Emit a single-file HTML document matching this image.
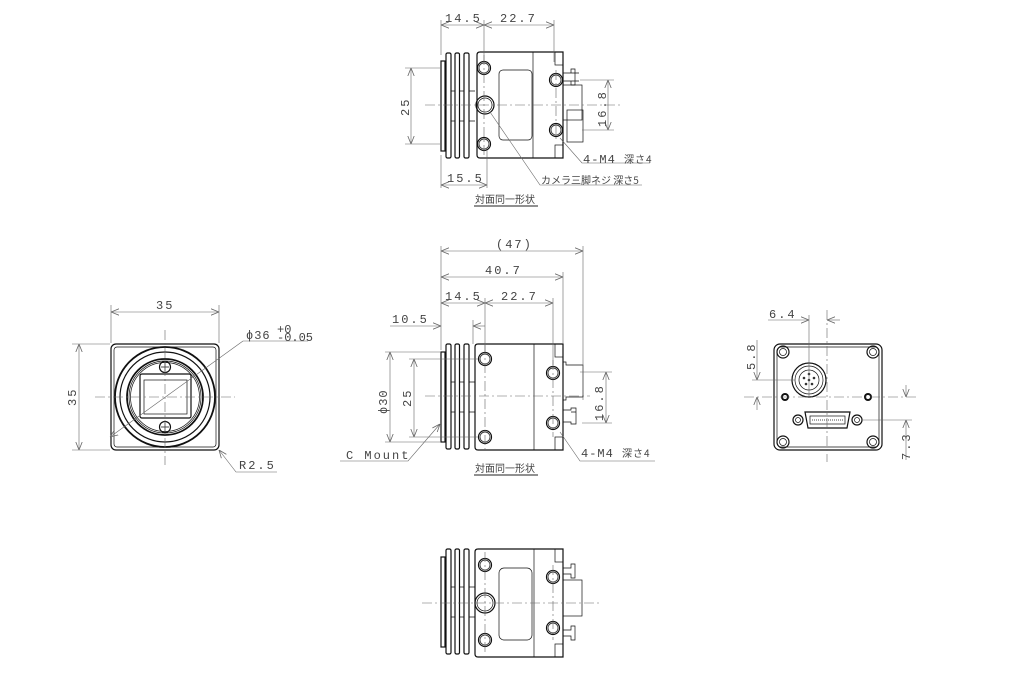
<!DOCTYPE html>
<html><head><meta charset="utf-8"><style>
html,body{margin:0;padding:0;background:#fff;}
svg{display:block;}
text{font-family:"Liberation Mono","Noto Sans CJK JP",monospace;fill:#444;font-size:12px;}
.k{fill:none;stroke:#111;stroke-width:1.2;}
.t{fill:none;stroke:#111;stroke-width:0.7;}
.d{fill:none;stroke:#666;stroke-width:0.6;}
.c{fill:none;stroke:#666;stroke-width:0.6;stroke-dasharray:10 3 2 3;}
.j{font-family:"Noto Sans CJK JP",sans-serif;font-size:10px;}
</style></head><body>
<svg width="1030" height="700" viewBox="0 0 1030 700" xmlns="http://www.w3.org/2000/svg">
<defs>
<marker id="a" viewBox="0 0 10 10" refX="10" refY="5" markerWidth="8" markerHeight="8" orient="auto-start-reverse" markerUnits="userSpaceOnUse"><path d="M0,1 L10,5 L0,9" fill="none" stroke="#666" stroke-width="1"/></marker>
<g id="fins">
<rect class="k" x="441" y="8" width="4" height="90"/>
<rect class="k" x="446" y="0" width="5" height="105" rx="1.5"/>
<rect class="k" x="455" y="0" width="4.5" height="105" rx="1.5"/>
<rect class="k" x="464" y="0" width="5" height="105" rx="1.5"/>
<path class="t" d="M451,38 h4 M459.5,38 h4.5 M469,38 h6 M451,68 h4 M459.5,68 h4.5 M469,68 h6 M445,38 h1 M445,68 h1"/>
</g>
<g id="hole"><circle class="k" r="6.5"/><circle class="t" r="5"/></g>
</defs>

<!-- TOP VIEW -->
<g transform="translate(0,53)"><use href="#fins"/></g>
<path class="k" d="M477,55 q0,-3 3,-3 H563 V158 H480 q-3,0 -3,-3 Z"/>
<line class="t" x1="533" y1="52" x2="533" y2="158"/>
<rect class="t" x="499" y="70" width="33" height="70" rx="4"/>
<rect class="t" x="555" y="52" width="8" height="13"/><rect class="t" x="555" y="145" width="8" height="13"/>
<rect class="t" x="563" y="85" width="19" height="35"/>
<rect class="t" x="567" y="110" width="16" height="32"/>
<path class="t" d="M563,73 h8 v-4 h4 v16 h-4 v-4 h-8 M571,73 h8 M571,81 h8"/>
<use href="#hole" x="484" y="68"/><use href="#hole" x="484" y="144"/>
<use href="#hole" x="556" y="80"/><use href="#hole" x="556" y="130"/>
<circle class="k" cx="485" cy="105" r="9"/><circle class="t" cx="485" cy="105" r="7"/>
<line class="c" x1="425" y1="105" x2="620" y2="105"/>
<line class="c" x1="484" y1="55" x2="484" y2="158"/><line class="c" x1="556" y1="70" x2="556" y2="140"/>
<path class="d" d="M441,20 V55 M484,20 V62 M554,20 V62 M441,188 V155 M487,188 V150 M405,68 H440 M405,144 H440 M580,80 H614 M582,130 H614"/>
<line class="d" x1="441" y1="25" x2="484" y2="25" marker-start="url(#a)" marker-end="url(#a)"/>
<line class="d" x1="484" y1="25" x2="554" y2="25" marker-start="url(#a)" marker-end="url(#a)"/>
<line class="d" x1="441" y1="185" x2="487" y2="185" marker-start="url(#a)" marker-end="url(#a)"/>
<line class="d" x1="411" y1="68" x2="411" y2="144" marker-start="url(#a)" marker-end="url(#a)"/>
<line class="d" x1="608" y1="80" x2="608" y2="130" marker-start="url(#a)" marker-end="url(#a)"/>
<text x="445" y="22" letter-spacing="2">14.5</text><text x="500" y="22" letter-spacing="2">22.7</text>
<text x="447" y="182" letter-spacing="2">15.5</text>
<text transform="translate(409,116) rotate(-90)" letter-spacing="2">25</text>
<text transform="translate(606,127) rotate(-90)" letter-spacing="2">16.8</text>
<path class="d" d="M490,112 L540,185 H642 M560,138 L582,163 H650"/>
<text x="583" y="163" letter-spacing="1">4-M4 <tspan class="j">深さ4</tspan></text>
<text x="541" y="184" class="j">カメラ三脚ネジ 深さ5</text>
<text x="475" y="203" class="j">対面同一形状</text>
<line x1="474" y1="206" x2="538" y2="206" stroke="#222" stroke-width="1"/>

<!-- FRONT VIEW -->
<rect class="k" x="111" y="344" width="108" height="106" rx="5"/>
<rect class="t" x="114" y="347" width="102" height="100" rx="3"/>
<circle cx="165" cy="397" r="50" fill="none" stroke="#111" stroke-width="1.8"/>
<circle class="k" cx="165" cy="397" r="45"/>
<circle cx="165" cy="397" r="38" fill="none" stroke="#111" stroke-width="1.8"/>
<circle class="t" cx="165" cy="397" r="36"/>
<circle class="t" cx="165" cy="397" r="34.5"/>
<rect class="k" x="140" y="374" width="51" height="44" rx="2"/>
<rect class="t" x="144" y="380" width="43" height="34"/>
<circle class="k" cx="165" cy="367" r="5.5"/><circle class="k" cx="165" cy="427" r="5.5"/>
<path class="t" d="M161,367 h8 M165,363 v8 M161,427 h8 M165,423 v8"/>
<line class="c" x1="95" y1="397" x2="235" y2="397"/>
<line class="c" x1="165" y1="330" x2="165" y2="465"/>
<path class="d" d="M111,305 V343 M219,305 V343 M72,344 H110 M72,450 H110"/>
<line class="d" x1="111" y1="312" x2="219" y2="312" marker-start="url(#a)" marker-end="url(#a)"/>
<line class="d" x1="79" y1="344" x2="79" y2="450" marker-start="url(#a)" marker-end="url(#a)"/>
<text x="156" y="309" letter-spacing="2">35</text>
<text transform="translate(76,406) rotate(-90)" letter-spacing="2">35</text>
<line class="d" x1="110" y1="437" x2="243" y2="341" marker-start="url(#a)"/>
<path class="d" d="M243,341 H308"/>
<text x="246" y="339" letter-spacing="1">ϕ36</text><text x="277" y="333" font-size="8">+0</text><text x="277" y="341" font-size="8">-0.05</text>
<path class="d" d="M219,450 L236,472 H277" marker-start="url(#a)"/>
<text x="239" y="469" letter-spacing="2">R2.5</text>

<!-- SIDE VIEW -->
<g transform="translate(0,344)"><use href="#fins"/></g>
<path class="k" d="M475,347 q0,-3 3,-3 H563 V450 H478 q-3,0 -3,-3 Z"/>
<line class="t" x1="534" y1="344" x2="534" y2="450"/>
<rect class="t" x="555" y="344" width="8" height="13"/><rect class="t" x="555" y="437" width="8" height="13"/>
<path class="t" d="M563,362 h3 v3 h17 v32 h-17 v3 h-3"/>
<path class="t" d="M563,410 h8 v-2 h5 v16 h-5 v-2 h-8 M571,412 h5"/>
<use href="#hole" x="485" y="359"/><use href="#hole" x="485" y="437"/>
<use href="#hole" x="553" y="373"/><use href="#hole" x="553" y="423"/>
<line class="c" x1="425" y1="396" x2="590" y2="396"/>
<line class="c" x1="485" y1="345" x2="485" y2="450"/><line class="c" x1="553" y1="360" x2="553" y2="437"/>
<path class="d" d="M441,246 V350 M583,246 V400 M563,272 V343 M485,298 V352 M553,298 V365 M473,320 V344 M385,352 H440 M409,359 H478 M580,372 H612 M582,423 H612"/>
<line class="d" x1="441" y1="251" x2="583" y2="251" marker-start="url(#a)" marker-end="url(#a)"/>
<line class="d" x1="441" y1="277" x2="563" y2="277" marker-start="url(#a)" marker-end="url(#a)"/>
<line class="d" x1="441" y1="303" x2="485" y2="303" marker-start="url(#a)" marker-end="url(#a)"/>
<line class="d" x1="485" y1="303" x2="553" y2="303" marker-start="url(#a)" marker-end="url(#a)"/>
<line class="d" x1="390" y1="326" x2="441" y2="326" marker-end="url(#a)"/>
<line class="d" x1="485" y1="326" x2="473" y2="326" marker-end="url(#a)"/>
<line class="d" x1="390" y1="352" x2="390" y2="442" marker-start="url(#a)" marker-end="url(#a)"/>
<path class="d" d="M385,442 H440"/>
<line class="d" x1="414" y1="359" x2="414" y2="437" marker-start="url(#a)" marker-end="url(#a)"/>
<path class="d" d="M409,437 H478"/>
<line class="d" x1="606" y1="372" x2="606" y2="423" marker-start="url(#a)" marker-end="url(#a)"/>
<text x="496" y="248" letter-spacing="2">(47)</text>
<text x="485" y="274" letter-spacing="2">40.7</text>
<text x="445" y="300" letter-spacing="2">14.5</text><text x="501" y="300" letter-spacing="2">22.7</text>
<text x="392" y="323" letter-spacing="2">10.5</text>
<text transform="translate(387,414) rotate(-90)" letter-spacing="1">ϕ30</text>
<text transform="translate(411,407) rotate(-90)" letter-spacing="2">25</text>
<text transform="translate(603,421) rotate(-90)" letter-spacing="2">16.8</text>
<path class="d" d="M340,461 H408 L440,424" marker-end="url(#a)"/>
<text x="346" y="459" letter-spacing="2">C Mount</text>
<path class="d" d="M560,432 L580,461 H655"/>
<text x="581" y="457" letter-spacing="1">4-M4 <tspan class="j">深さ4</tspan></text>
<text x="475" y="472" class="j">対面同一形状</text>
<line x1="474" y1="475" x2="538" y2="475" stroke="#222" stroke-width="1"/>

<!-- BACK VIEW -->
<rect class="k" x="774" y="344" width="108" height="106" rx="6"/>
<rect class="t" x="777" y="347" width="102" height="100" rx="4"/>
<g><circle class="k" cx="783" cy="352" r="6"/><circle class="t" cx="783" cy="352" r="3.5"/>
<circle class="k" cx="873" cy="352" r="6"/><circle class="t" cx="873" cy="352" r="3.5"/>
<circle class="k" cx="783" cy="442" r="6"/><circle class="t" cx="783" cy="442" r="3.5"/>
<circle class="k" cx="873" cy="442" r="6"/><circle class="t" cx="873" cy="442" r="3.5"/></g>
<circle class="k" cx="809" cy="380" r="17"/><circle class="t" cx="809" cy="380" r="14"/><circle class="t" cx="809" cy="380" r="10"/>
<g fill="#333"><circle cx="809" cy="374" r="1.3"/><circle cx="804" cy="378" r="1.3"/><circle cx="814" cy="378" r="1.3"/><circle cx="806" cy="384" r="1.3"/><circle cx="812" cy="384" r="1.3"/><circle cx="809" cy="380" r="1.3"/></g>
<circle cx="785" cy="397" r="4" fill="#111"/><circle cx="868" cy="397" r="4" fill="#111"/>
<circle cx="785" cy="397" r="2" fill="#fff"/><circle cx="868" cy="397" r="2" fill="#fff"/>
<path class="k" d="M805,412 H850 L847,428 H808 Z"/>
<rect class="t" x="810" y="416" width="35" height="8"/>
<path class="t" d="M812,420 H843" stroke-dasharray="1 1"/>
<circle class="k" cx="798" cy="420" r="5"/><circle class="t" cx="798" cy="420" r="2.5"/>
<circle class="k" cx="857" cy="420" r="5"/><circle class="t" cx="857" cy="420" r="2.5"/>
<line class="c" x1="744" y1="397" x2="918" y2="397"/>
<line class="c" x1="827" y1="310" x2="827" y2="462"/>
<path class="d" d="M809,315 V396 M752,380 H795 M862,420 H912"/>
<line class="d" x1="768" y1="320" x2="809" y2="320" marker-end="url(#a)"/>
<line class="d" x1="840" y1="320" x2="827" y2="320" marker-end="url(#a)"/>
<text x="769" y="318" letter-spacing="2">6.4</text>
<line class="d" x1="757" y1="340" x2="757" y2="380" marker-end="url(#a)"/>
<line class="d" x1="757" y1="410" x2="757" y2="397" marker-end="url(#a)"/>
<text transform="translate(755,370) rotate(-90)" letter-spacing="2">5.8</text>
<line class="d" x1="906" y1="385" x2="906" y2="397" marker-end="url(#a)"/>
<line class="d" x1="906" y1="460" x2="906" y2="420" marker-end="url(#a)"/>
<text transform="translate(910,460) rotate(-90)" letter-spacing="2">7.3</text>

<!-- BOTTOM VIEW -->
<g transform="translate(0,549)"><use href="#fins"/></g>
<path class="k" d="M475,552 q0,-3 3,-3 H563 V657 H478 q-3,0 -3,-3 Z"/>
<line class="t" x1="534" y1="549" x2="534" y2="657"/>
<rect class="t" x="499" y="568" width="33" height="72" rx="5"/>
<rect class="t" x="555" y="549" width="8" height="13"/><rect class="t" x="555" y="644" width="8" height="13"/>
<rect class="t" x="563" y="580" width="19" height="36"/>
<path class="t" d="M563,568 h8 v-4 h4 v14 h-4 v-4 h-8 M563,630 h8 v-4 h4 v14 h-4 v-4 h-8"/>
<use href="#hole" x="485" y="565"/><use href="#hole" x="485" y="640"/>
<use href="#hole" x="553" y="577"/><use href="#hole" x="553" y="628"/>
<circle class="k" cx="485" cy="603" r="10"/><circle class="t" cx="485" cy="603" r="8"/>
<line class="c" x1="422" y1="603" x2="600" y2="603"/>
<line class="c" x1="485" y1="552" x2="485" y2="655"/><line class="c" x1="553" y1="565" x2="553" y2="640"/>
</svg>
</body></html>
